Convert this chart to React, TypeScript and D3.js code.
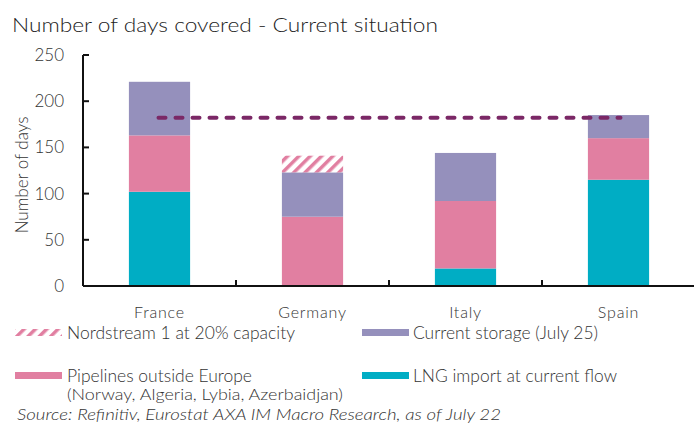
import React, { useEffect, useRef } from "react";
import * as d3 from "d3";

const categories = ["France", "Germany", "Italy", "Spain"];
const lng = [102, 0, 19, 115];
const pipelines = [61, 75, 73, 45];
const storage = [58, 48, 52, 25];
const nordstream = [0, 18, 0, 0];
const yTicks = [0, 50, 100, 150, 200, 250];
const thresholdValue = 182;

const C_LNG = "#00adc4";
const C_PIPE = "#e17fa1";
const C_STOR = "#9590bc";
const C_LINE = "#7b2866";
const FONT = "Lato, 'Open Sans', sans-serif";
const TXT = "#333";

export default function App() {
  const ref = useRef<SVGSVGElement>(null);
  useEffect(() => {
    const svg = d3.select(ref.current);
    svg.selectAll("*").remove();
    const W = 694, H = 424;
    const x0 = 83, x1 = 695, yTop = 55, yBot = 286;

    const defs = svg.append("defs");
    const pat = defs.append("pattern").attr("id", "hatch").attr("patternUnits", "userSpaceOnUse")
      .attr("width", 8).attr("height", 8).attr("patternTransform", "rotate(45)");
    pat.append("rect").attr("width", 8).attr("height", 8).attr("fill", "#fff");
    pat.append("rect").attr("x", 0).attr("width", 3.5).attr("height", 8).attr("fill", C_PIPE);

    svg.append("rect").attr("width", W).attr("height", H).attr("fill", "#fff");

    const x = d3.scaleBand().domain(categories).range([x0, x1]).paddingInner(0.6).paddingOuter(0.3);
    const xb = d3.scaleBand().domain(categories).range([x0, x1]);
    const y = d3.scaleLinear().domain([0, 250]).range([yBot, yTop]);

    // title
    svg.append("text").attr("x", 12).attr("y", 32).attr("font-family", FONT).attr("font-size", 20)
      .attr("font-weight", 300)
      .attr("fill", "#222").attr("textLength", 426).attr("lengthAdjust", "spacingAndGlyphs")
      .text("Number of days covered - Current situation");

    const series = [
      { vals: lng, fill: C_LNG },
      { vals: pipelines, fill: C_PIPE },
      { vals: storage, fill: C_STOR },
      { vals: nordstream, fill: "url(#hatch)" },
    ];
    categories.forEach((c, i) => {
      let base = 0;
      series.forEach((s) => {
        const v = s.vals[i];
        if (v > 0) {
          svg.append("rect").attr("x", x(c)!).attr("width", x.bandwidth())
            .attr("y", y(base + v)).attr("height", y(base) - y(base + v)).attr("fill", s.fill);
        }
        base += v;
      });
    });

    // threshold dashed line
    svg.append("line")
      .attr("x1", x("France")! + x.bandwidth() / 2 - 1)
      .attr("x2", x("Spain")! + x.bandwidth() / 2 + 2)
      .attr("y1", y(thresholdValue)).attr("y2", y(thresholdValue))
      .attr("stroke", C_LINE).attr("stroke-width", 4).attr("stroke-dasharray", "7 10")
      .attr("stroke-linecap", "round");

    // y axis
    svg.append("line").attr("x1", x0).attr("x2", x0).attr("y1", yTop).attr("y2", yBot)
      .attr("stroke", "#111").attr("stroke-width", 2);
    yTicks.forEach((t) => {
      svg.append("line").attr("x1", x0).attr("x2", x0 + 6).attr("y1", y(t)).attr("y2", y(t))
        .attr("stroke", "#111").attr("stroke-width", 2);
      svg.append("text").attr("x", 64).attr("y", y(t) + 6).attr("text-anchor", "end")
        .attr("font-family", FONT).attr("font-size", 17).attr("font-weight", 300).attr("fill", TXT).text(String(t));
    });
    svg.append("text").attr("transform", `translate(28,175) rotate(-90)`).attr("text-anchor", "middle")
      .attr("font-family", FONT).attr("font-size", 17).attr("font-weight", 300).attr("fill", TXT).text("Number of days");

    // x axis
    svg.append("line").attr("x1", x0).attr("x2", x1).attr("y1", yBot).attr("y2", yBot)
      .attr("stroke", "#111").attr("stroke-width", 2);
    categories.slice(1).forEach((c) => {
      const px = xb(c)!;
      svg.append("line").attr("x1", px).attr("x2", px).attr("y1", yBot).attr("y2", yBot - 6)
        .attr("stroke", "#111").attr("stroke-width", 2);
    });
    categories.forEach((c) => {
      svg.append("text").attr("x", x(c)! + x.bandwidth() / 2).attr("y", 318).attr("text-anchor", "middle")
        .attr("font-family", FONT).attr("font-size", 16).attr("font-weight", 300).attr("fill", TXT)
        .attr("letter-spacing", 0.8).text(c);
    });

    // legend
    const leg = [
      { x: 15, y: 333, fill: "url(#hatch)", label: "Nordstream 1 at 20% capacity", len: 228 },
      { x: 362, y: 333, fill: C_STOR, label: "Current storage (July 25)", len: 185 },
      { x: 15, y: 376, fill: C_PIPE, label: "Pipelines outside Europe", len: 185 },
      { x: 362, y: 376, fill: C_LNG, label: "LNG import at current flow", len: 204 },
    ];
    leg.forEach((l) => {
      svg.append("rect").attr("x", l.x).attr("y", l.y - 4).attr("width", 47).attr("height", 7).attr("fill", l.fill);
      svg.append("text").attr("x", l.x + 52 - (l.x > 100 ? 1 : 0)).attr("y", l.y + 6).attr("font-family", FONT).attr("font-size", 17)
        .attr("font-weight", 300)
        .attr("fill", TXT).attr("textLength", l.len).attr("lengthAdjust", "spacingAndGlyphs").text(l.label);
    });
    svg.append("text").attr("x", 67).attr("y", 400).attr("font-family", FONT).attr("font-size", 16.5)
      .attr("font-weight", 300)
      .attr("fill", TXT).attr("textLength", 276).attr("lengthAdjust", "spacingAndGlyphs")
      .text("(Norway, Algeria, Lybia, Azerbaidjan)");
    svg.append("text").attr("x", 17).attr("y", 420).attr("font-family", FONT).attr("font-size", 16)
      .attr("font-weight", 300)
      .attr("font-style", "italic").attr("fill", TXT).attr("textLength", 484).attr("lengthAdjust", "spacingAndGlyphs")
      .text("Source: Refinitiv, Eurostat AXA IM Macro Research, as of July 22");
  }, []);
  return (
    <svg ref={ref} width={694} height={424} style={{ position: "absolute", left: 0, top: 0, display: "block" }} />
  );
}
